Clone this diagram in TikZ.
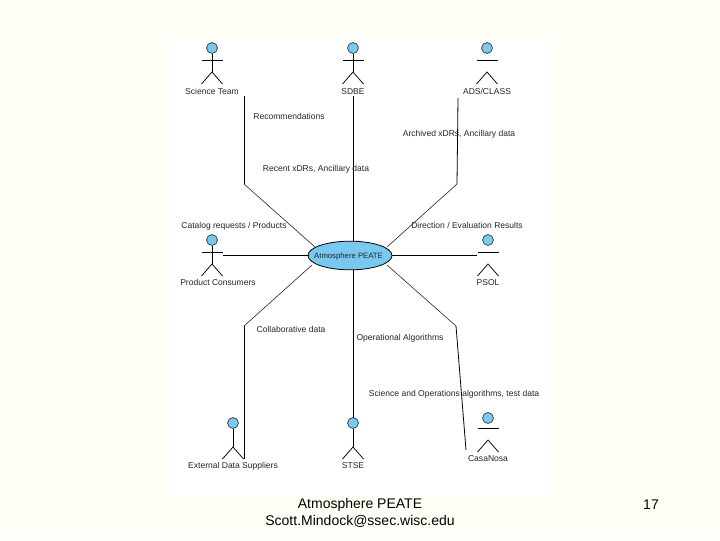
\documentclass[tikz,border=0pt]{standalone}
\usepackage{fontspec}
\usetikzlibrary{shapes.geometric}
\setmainfont{Liberation Sans}
\definecolor{slidebg}{HTML}{FFFFF8}
\definecolor{actorblue}{HTML}{78C8F0}
\tikzset{
  lbl/.style={inner sep=0pt,text height=4.6pt,text depth=0pt,font=\fontsize{6.4}{7}\selectfont,text=black!85},
  foot/.style={inner sep=0pt,font=\fontsize{10.5}{12}\selectfont},
  head/.style={circle,draw=black!80,fill=actorblue,line width=0.5pt,minimum size=8.2pt,inner sep=0pt},
  limb/.style={draw=black,line width=0.55pt},
  conn/.style={draw=black,line width=0.6pt},
  thinconn/.style={draw=black!85,line width=0.45pt},
}
% #1 name, #2 x, #3 head y
\newcommand{\actorfull}[3]{%
  \node[head] (#1) at (#2,#3) {};
  \draw[limb] (#2-10.5,#3+12) -- (#2+10.5,#3+12);
  \draw[limb] (#1.south) -- (#2,#3+24);
  \draw[limb] (#2-10.5,#3+36) -- (#2,#3+24) -- (#2+10.5,#3+36);
}
\newcommand{\actornoarm}[3]{%
  \node[head] (#1) at (#2,#3) {};
  \draw[limb] (#1.south) -- (#2,#3+24);
  \draw[limb] (#2-10.5,#3+36) -- (#2,#3+24) -- (#2+10.5,#3+36);
}
\newcommand{\actorgap}[4]{%
  \node[head] (#1) at (#2,#3) {};
  \draw[limb] (#2-10.5,#3+#4) -- (#2+10.5,#3+#4);
  \draw[limb] (#2-10.5,#3+#4+24) -- (#2,#3+#4+12) -- (#2+10.5,#3+#4+24);
}
\begin{document}
\begin{tikzpicture}[x=0.75pt,y=-0.75pt]
\useasboundingbox (0,0) rectangle (720,540);
\fill[slidebg] (0,0) rectangle (720,540);
\fill[white] (170,38) rectangle (548,495);

% actors
\actorfull{st}{212}{48}
\actorfull{sd}{353}{48}
\actorgap{ad}{487}{48}{12}
\actorfull{pc}{212}{240}
\actorgap{ps}{488}{240}{12}
\actornoarm{ex}{233}{423}
\actornoarm{ss}{353}{423}
\actorgap{cn}{488}{418}{10}

% central use case
\node[ellipse,draw=black,fill=actorblue,line width=0.6pt,minimum width=63pt,minimum height=21.5pt,inner sep=0pt] (pe) at (350,255.5) {};
\node[lbl,font=\fontsize{5.8}{7}\selectfont] (pet) at (348.5,255.5) {Atmosphere PEATE};

% actor labels
\node[lbl] (l1) at (212,91) {Science Team};
\node[lbl] (l2) at (353,91) {SDBE};
\node[lbl] (l3) at (487,91) {ADS/CLASS};
\node[lbl] (l4) at (218,282) {Product Consumers};
\node[lbl] (l5) at (488,282) {PSOL};
\node[lbl] (l6) at (233,465) {External Data Suppliers};
\node[lbl] (l7) at (353,465) {STSE};
\node[lbl] (l8) at (488,458) {CasaNosa};

% connector ends
\coordinate (a1) at (244,96);
\coordinate (a2) at (244,184);
\coordinate (a3) at (315,247);
\coordinate (b1) at (353,96);
\coordinate (b2) at (353,241);
\coordinate (c1) at (458,98);
\coordinate (c2) at (457,184);
\coordinate (c3) at (387,247);
\coordinate (d1) at (223,255);
\coordinate (d2) at (308.5,255);
\coordinate (e1) at (391.5,255);
\coordinate (e2) at (477,255);
\coordinate (f1) at (244,459);
\coordinate (f2) at (244,326);
\coordinate (f3) at (312,265);
\coordinate (g1) at (353,270);
\coordinate (g2) at (353,418);
\coordinate (h1) at (466,450);
\coordinate (h2) at (456,326);
\coordinate (h3) at (387,265);

\draw[conn] (a1) -- (a2);
\draw[thinconn] (a2) -- (a3);
\draw[conn] (b1) -- (b2);
\draw[conn] (c1) -- (c2);
\draw[thinconn] (c2) -- (c3);
\draw[conn] (d1) -- (d2);
\draw[conn] (e1) -- (e2);
\draw[conn] (f1) -- (f2);
\draw[thinconn] (f2) -- (f3);
\draw[conn] (g1) -- (g2);
\draw[conn] (h1) -- (h2);
\draw[thinconn] (h2) -- (h3);

% connector labels
\node[lbl] (t1) at (289,116) {Recommendations};
\node[lbl] (t2) at (316,168) {Recent xDRs, Ancillary data};
\node[lbl] (t3) at (459,133) {Archived xDRs, Ancillary data};
\node[lbl] (t4) at (234,225) {Catalog requests / Products};
\node[lbl] (t5) at (467,225) {Direction / Evaluation Results};
\node[lbl] (t6) at (291,329) {Collaborative data};
\node[lbl] (t7) at (400,337) {Operational Algorithms};
\node[lbl] (t8) at (454,393) {Science and Operations algorithms, test data};

% footer
\node[foot] (f-a) at (360,504.5) {Atmosphere PEATE};
\node[foot] (f-b) at (360,521.5) {Scott.Mindock@ssec.wisc.edu};
\node[foot] (f-c) at (651,504.5) {17};
\end{tikzpicture}
\end{document}
